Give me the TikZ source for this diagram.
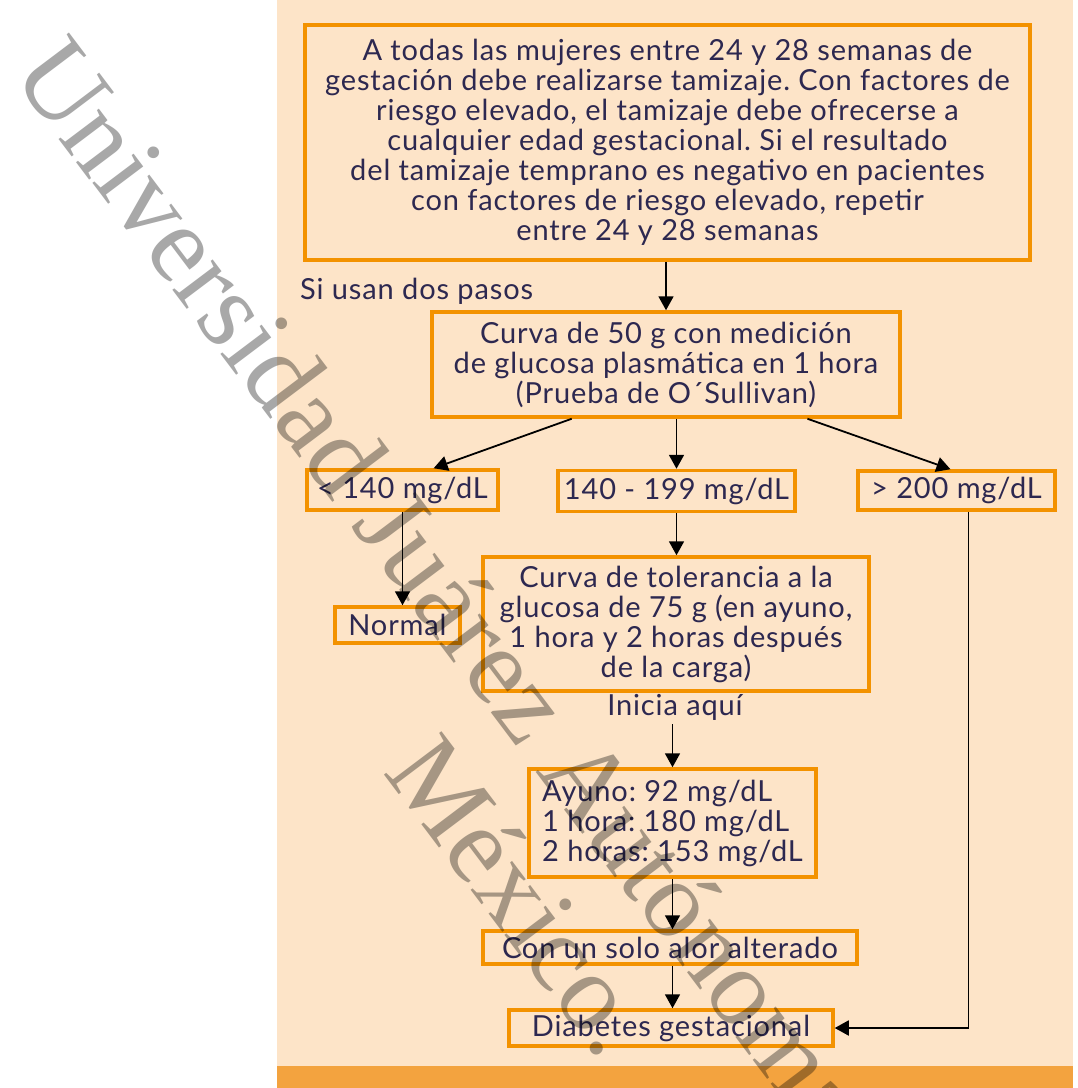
\documentclass[tikz,border=0pt]{standalone}
\usepackage{fontspec}
\setmainfont{Lato}[LetterSpace=3.0]
\newfontfamily\wmfont{Liberation Serif}
\usetikzlibrary{arrows.meta,calc}
\definecolor{peach}{HTML}{FDE4C8}
\definecolor{boxorange}{HTML}{F39200}
\definecolor{barorange}{HTML}{F3A33F}
\definecolor{txt}{HTML}{2D2850}
\definecolor{wm}{HTML}{A8A8A8}
\newcommand\mainsz{\fontsize{29}{30}\selectfont}
\tikzset{
  fbox/.style={draw=boxorange, line width=3.5pt, inner sep=0pt, align=center, text=txt, font=\mainsz},
  conn/.style={line width=1.8pt, -{Triangle[length=14pt,width=15pt]}},
  plain/.style={text=txt, font=\mainsz, inner sep=0pt},
  wmark/.style={text=wm, font=\wmfont\fontsize{110}{110}\selectfont, rotate=-53, anchor=base west, inner sep=0pt}
}
\begin{document}
\frenchspacing
\begin{tikzpicture}[x=1pt,y=-1pt]
\useasboundingbox (0,0) rectangle (1078,1088);
\clip (0,0) rectangle (1078,1088);
\fill[white] (0,0) rectangle (1078,1088);
\fill[peach] (277,0) rectangle (1073,1088);
\fill[barorange] (277,1066) rectangle (1073,1088);

\node[fbox, minimum width=725pt, minimum height=235pt] (b1) at (667.5,142.5)
 {A todas las mujeres entre 24 y 28 semanas de\\
  gestación debe realizarse tamizaje. Con factores de\\
  riesgo elevado, el tamizaje debe ofrecerse a\\
  cualquier edad gestacional. Si el resultado\\
  del tamizaje temprano es negativo en pacientes\\
  con factores de riesgo elevado, repetir\\
  entre 24 y 28 semanas};
\node[plain, anchor=west] (si) at (300,291) {Si usan dos pasos};
\node[fbox, minimum width=468pt, minimum height=105pt] (b2) at (666,364.5)
 {Curva de 50 g con medición\\ de glucosa plasmática en 1 hora\\ (Prueba de O´Sullivan)};
\node[fbox, minimum width=191pt, minimum height=40pt] (l140) at (402.5,490) {< 140 mg/dL};
\node[fbox, minimum width=237pt, minimum height=41pt] (m140) at (676.5,491) {140 - 199 mg/dL};
\node[fbox, minimum width=197pt, minimum height=39pt] (g200) at (956.5,490.5) {> 200 mg/dL};
\node[fbox, minimum width=125pt, minimum height=36pt] (normal) at (397.5,625) {Normal};
\node[fbox, minimum width=386pt, minimum height=134pt] (b3) at (676,624)
 {Curva de tolerancia a la\\ glucosa de 75 g (en ayuno,\\ 1 hora y 2 horas después\\ de la carga)};
\node[plain] (inicia) at (675,707) {Inicia aquí};
\node[fbox, minimum width=287pt, minimum height=108pt, align=left] (b4) at (672.5,823)
 {Ayuno: 92 mg/dL\\ 1 hora: 180 mg/dL\\ 2 horas: 153 mg/dL};
\node[fbox, minimum width=374pt, minimum height=33pt] (b5) at (670,947.5) {Con un solo alor alterado};
\node[fbox, minimum width=324pt, minimum height=36pt] (b6) at (671,1028) {Diabetes gestacional};

\draw[conn] (b2.north |- b1.south) -- (b2.north);
\draw[conn] ($(b2.south west)!0.30!(b2.south east)$) -- ($(l140.north west)!0.66!(l140.north east)$);
\draw[conn] (m140.north |- b2.south) -- (m140.north);
\draw[conn] ($(b2.south west)!0.80!(b2.south east)$) -- ($(g200.north west)!0.47!(g200.north east)$);
\draw[conn] (l140.south) -- (l140.south |- normal.north);
\draw[conn] (m140.south) -- (m140.south |- b3.north);
\draw[conn] (b4.north |- inicia.south) ++(0,4) -- (b4.north);
\draw[conn] (b4.south) -- (b4.south |- b5.north);
\draw[conn] (b4.south |- b5.south) -- (b4.south |- b6.north);
\coordinate (gs) at ($(g200.south west)!0.56!(g200.south east)$);
\draw[conn] (gs) -- (gs |- b6.east) -- (b6.east);

\begin{scope}[blend mode=multiply]
\node[wmark] (wm1) at (10,74) {Universidad Juárez Autónoma};
\node[wmark] (wm2) at (382,772) {México.};
\end{scope}
\end{tikzpicture}
\end{document}
